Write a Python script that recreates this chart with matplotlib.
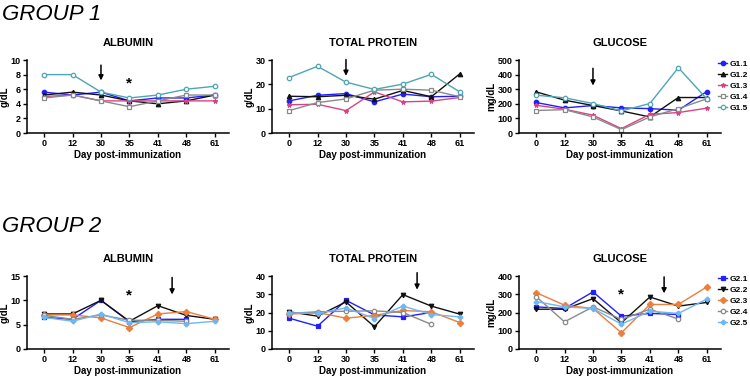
import numpy as np
import matplotlib
matplotlib.use("Agg")
import matplotlib.pyplot as plt

plt.rcParams['font.family'] = ['Liberation Sans', 'DejaVu Sans']

days = ["0", "12", "30", "35", "41", "48", "61"]
nan = np.nan

# group 1
g1_names = ["G1.1", "G1.2", "G1.3", "G1.4", "G1.5"]
g1_alb = [
    [5.6, 5.2, 5.6, 4.4, 4.8, 4.8, 5.2],
    [5.2, 5.6, 5.2, 4.4, 4.0, 4.4, 5.2],
    [5.0, 5.2, 4.4, 4.4, 4.4, 4.4, 4.4],
    [4.8, 5.2, 4.4, 3.6, 4.4, 5.2, 5.2],
    [8.0, 8.0, 5.6, 4.8, 5.2, 6.0, 6.4],
]
g1_tp = [
    [13.2, 15.5, 16.2, 12.8, 16.0, 14.9, 15.1],
    [15.1, 14.9, 15.5, 13.9, 17.5, 14.9, 24.3],
    [11.6, 11.8, 9.2, 16.9, 12.8, 13.1, 14.6],
    [9.2, 12.5, 14.0, 17.6, 18.0, 17.6, 14.9],
    [22.8, 27.4, 20.9, 17.9, 20.1, 24.1, 16.9],
]
g1_glu = [
    [209, 172, 188, 172, 167, 156, 284],
    [282, 225, 188, 151, 110, 243, 243],
    [190, 163, 122, 30, 128, 140, 170],
    [154, 160, 110, 23, 110, 167, 234],
    [259, 241, 202, 151, 202, 447, 234],
]

# group 2
g2_names = ["G2.1", "G2.2", "G2.3", "G2.4", "G2.5"]
g2_alb = [
    [6.5, 6.1, 10.0, 5.6, 6.1, 6.1, nan],
    [7.2, 7.2, 10.0, 5.7, 8.9, 6.9, 6.1],
    [7.0, 7.0, 6.4, 4.4, 7.2, 7.7, 6.1],
    [6.9, 6.1, 7.0, 5.9, 5.9, 5.7, nan],
    [6.5, 5.7, 7.2, 5.4, 5.6, 5.2, 5.7],
]
g2_tp = [
    [16.9, 12.5, 26.7, 18.7, 17.6, 20.0, nan],
    [20.4, 18.0, 25.8, 12.2, 29.8, 23.5, 19.1],
    [19.1, 20.0, 16.9, 18.4, 21.1, 20.4, 14.5],
    [19.5, 20.4, 20.7, 20.9, 20.0, 13.5, nan],
    [19.8, 19.5, 22.5, 16.7, 23.5, 18.9, 17.6],
]
g2_glu = [
    [231, 222, 313, 180, 195, 189, nan],
    [218, 218, 276, 144, 285, 235, 255],
    [309, 240, 222, 89, 244, 244, 340],
    [287, 149, 231, 162, 218, 164, nan],
    [260, 231, 222, 136, 207, 195, 273],
]

g1_style = [
    dict(color="#2020ff", marker="o", mfc="#2020ff"),
    dict(color="#111111", marker="^", mfc="#111111"),
    dict(color="#d94386", marker="*", mfc="#d94386"),
    dict(color="#8a8a8a", marker="s", mfc="white"),
    dict(color="#4da6b3", marker="o", mfc="white"),
]
g2_style = [
    dict(color="#2020ff", marker="s", mfc="#2020ff"),
    dict(color="#111111", marker="v", mfc="#111111"),
    dict(color="#ec7f3a", marker="D", mfc="#ec7f3a"),
    dict(color="#8a8a8a", marker="o", mfc="white"),
    dict(color="#6fb6f5", marker="P", mfc="#6fb6f5"),
]

W, H = 750, 376
fig = plt.figure(figsize=(7.5, 3.76), dpi=100)


def make_ax(x0, ytop, ybot):
    w = 202
    return fig.add_axes([x0 / W, 1 - ybot / H, w / W, (ybot - ytop) / H])


def panel(ax, data, styles, title, ylab, ymax, ystep):
    x = np.arange(len(days))
    lines = []
    for vals, st in zip(data, styles):
        ln, = ax.plot(x, vals, color=st["color"], marker=st["marker"],
                      mfc=st["mfc"], mec=st["color"], ms=3.2, lw=1.0,
                      mew=0.9, clip_on=False)
        lines.append(ln)
    ax.set_xlim(-0.6, 6.5)
    ax.set_ylim(0, ymax)
    ax.set_yticks(np.arange(0, ymax + 1e-9, ystep))
    ax.set_xticks(x)
    ax.set_xticklabels(days)
    for s in ["top", "right"]:
        ax.spines[s].set_visible(False)
    for s in ["left", "bottom"]:
        ax.spines[s].set_linewidth(1.1)
    ax.tick_params(axis="both", labelsize=6.5, width=1.0, length=3, pad=1.5)
    for lbl in ax.get_xticklabels() + ax.get_yticklabels():
        lbl.set_fontweight("bold")
    ax.set_title(title, fontsize=8, fontweight="bold", pad=10)
    ax.set_xlabel("Day post-immunization", fontsize=7, fontweight="bold", labelpad=1)
    ax.set_ylabel(ylab, fontsize=7, fontweight="bold", labelpad=1)
    return lines


def arrow(ax, xi, ytop, ytip):
    ax.annotate("", xy=(xi, ytip), xytext=(xi, ytop),
                arrowprops=dict(arrowstyle="-|>", color="black", lw=1.1,
                                mutation_scale=7, shrinkA=0, shrinkB=0),
                annotation_clip=False)


def star(ax, xi, y):
    ax.text(xi, y, "*", ha="center", va="center", fontsize=11, fontweight="bold")


def legend(ax, lines, names, ytop):
    leg = ax.legend(lines, names, loc="upper left",
                    bbox_to_anchor=(718 / W, 1 - ytop / H),
                    bbox_transform=fig.transFigure,
                    frameon=False, fontsize=6, handlelength=1.1,
                    handletextpad=0.35, labelspacing=0.38,
                    borderpad=0, borderaxespad=0)
    for t in leg.get_texts():
        t.set_fontweight("bold")


fig.text(2 / W, 1 - 15 / H, "GROUP 1", fontsize=16, style="italic", va="center")
fig.text(2 / W, 1 - 227 / H, "GROUP 2", fontsize=16, style="italic", va="center")

# group 1 panels
ax = make_ax(27, 60, 133)
panel(ax, g1_alb, g1_style, "ALBUMIN", "g/dL", 10, 2)
arrow(ax, 2, 9.3, 7.2)
star(ax, 3, 6.8)

ax = make_ax(272, 60, 133)
panel(ax, g1_tp, g1_style, "TOTAL PROTEIN", "g/dL", 30, 10)
arrow(ax, 2, 30.2, 23.5)

ax = make_ax(519, 60, 133)
lines = panel(ax, g1_glu, g1_style, "GLUCOSE", "mg/dL", 500, 100)
arrow(ax, 2, 443, 325)
legend(ax, lines, g1_names, 60)

# group 2 panels
ax = make_ax(27, 276, 349)
panel(ax, g2_alb, g2_style, "ALBUMIN", "g/dL", 15, 5)
arrow(ax, 4.5, 14.7, 11.2)
star(ax, 3, 11.0)

ax = make_ax(272, 276, 349)
panel(ax, g2_tp, g2_style, "TOTAL PROTEIN", "g/dL", 40, 10)
arrow(ax, 4.5, 41.8, 32.5)

ax = make_ax(519, 276, 349)
lines = panel(ax, g2_glu, g2_style, "GLUCOSE", "mg/dL", 400, 100)
arrow(ax, 4.5, 395, 305)
star(ax, 3, 298)
legend(ax, lines, g2_names, 275)

fig.savefig("out.png", dpi=100)
